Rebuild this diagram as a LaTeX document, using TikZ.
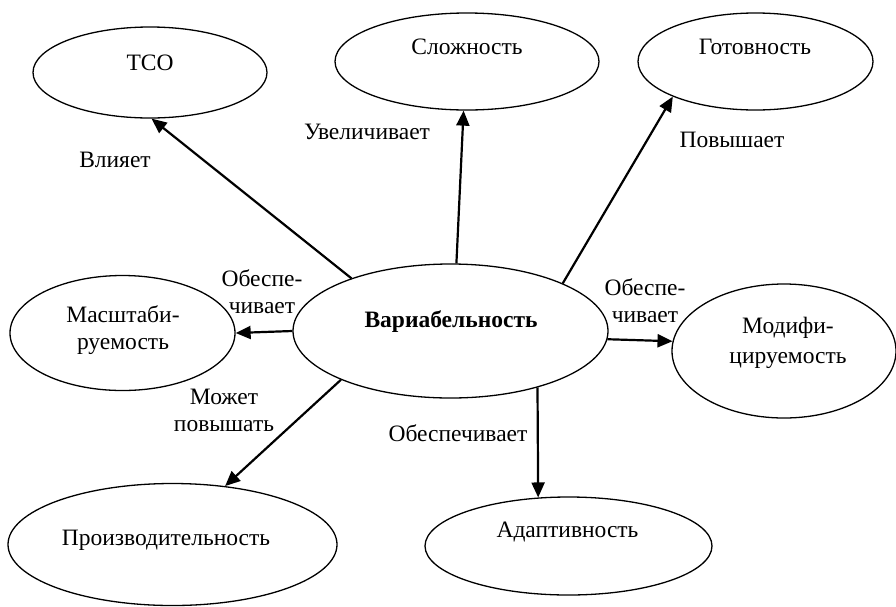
\documentclass[tikz,border=0pt]{standalone}
\usepackage{fontspec}
\setmainfont{Liberation Serif}
\usetikzlibrary{arrows.meta, positioning, shapes.geometric}

\begin{document}
\begin{tikzpicture}[
    x=1pt, y=-1pt,
    bubble/.style={ellipse, draw, line width=1.3pt, inner sep=0pt},
    link/.style={-{Triangle[length=15pt, width=13pt]}, line width=2.2pt},
    every node/.style={font=\fontsize{23.5}{27}\selectfont, align=center},
]
\useasboundingbox (0,0) rectangle (896,606);

% Define properties (ellipses)
\node[bubble, minimum width=315pt, minimum height=134pt] (var) at (450.5,331) {};
\node[bubble, minimum width=234pt, minimum height=91pt] (tso) at (150,72.5) {};
\node[bubble, minimum width=264pt, minimum height=97pt] (slozh) at (467,61.5) {};
\node[bubble, minimum width=235pt, minimum height=97pt] (gotov) at (755.5,61.5) {};
\node[bubble, minimum width=225pt, minimum height=115pt] (mash) at (122.5,333) {};
\node[bubble, minimum width=224pt, minimum height=134pt] (modif) at (784,351) {};
\node[bubble, minimum width=329pt, minimum height=122pt] (prod) at (172.5,544.5) {};
\node[bubble, minimum width=287pt, minimum height=98pt] (adapt) at (568.5,546) {};

% Texts inside the ellipses
\node (varText) at (451,322) {\textbf{Вариабельность}};
\node (tsoText) at (150,63) {ТСО};
\node (slozhText) at (467,47) {Сложность};
\node (gotovText) at (755,47) {Готовность};
\node (mashText) at (123,330) {Масштаби-\\руемость};
\node (modifText) at (788,343) {Модифи-\\[3pt]цируемость};
\node (prodText) at (166,540) {Производительность};
\node (adaptText) at (567.5,532) {Адаптивность};

% Define connections (arrows)
\draw[link] (var.152) -- (tso.-88);
\draw[link] (var.85) -- (slozh.-94.5);
\draw[link] (var.23) -- (gotov.-157);
\draw[link] (var.west) -- (mash.east);
\draw[link] (var.-3.5) -- (modif.175);
\draw[link] (var.-156) -- (prod.48);
\draw[link] (var.-33) -- (adapt.122);

% Arrow captions
\node (vliyaet) at (115,160) {Влияет};
\node (uvelich) at (367,132) {Увеличивает};
\node (povysh) at (732,140) {Повышает};
\node (obespL) at (262,292) {Обеспе-\\чивает};
\node (obespR) at (645,301) {Обеспе-\\чивает};
\node (mozhet) at (224,410.5) {Может\\повышать};
\node (obespD) at (458,433) {Обеспечивает};

\end{tikzpicture}
\end{document}
